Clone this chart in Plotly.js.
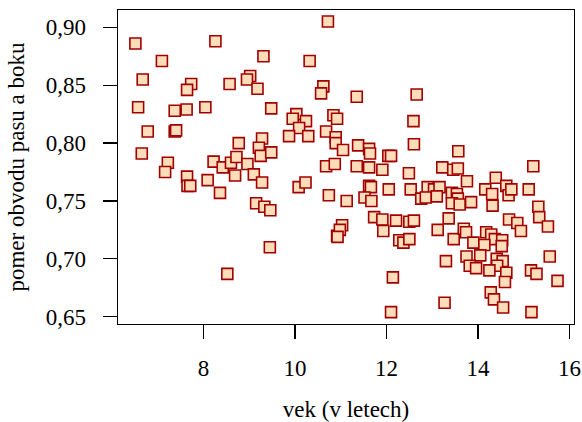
<!DOCTYPE html>
<html>
<head>
<meta charset="utf-8">
<script src="https://cdn.plot.ly/plotly-3.0.1.min.js"></script>
<style>html,body{margin:0;padding:0;background:#fff;}#chart{width:582px;height:422px;}</style>
</head>
<body>
<div id="chart"></div>
<script>
const age = [
  6.51, 8.26, 10.72, 9.31, 7.09, 10.32, 6.67, 7.73, 7.64, 8.57,
  9.02, 8.95, 9.18, 10.62, 10.57, 6.57, 7.37, 7.63, 8.04, 9.48,
  10.03, 9.95, 10.24, 10.09, 9.87, 10.29, 10.84, 10.92, 6.78, 7.37,
  7.40, 10.68, 10.89, 10.89, 9.28, 8.77, 9.21, 9.25, 9.48, 6.65,
  7.22, 7.16, 8.22, 8.42, 8.60, 8.72, 8.96, 9.10, 8.69, 7.64,
  10.68, 10.87, 11.35, 12.66, 12.59, 11.05, 11.38, 11.62, 11.64, 12.60,
  13.57, 12.04, 12.10, 11.35, 11.62, 11.91, 12.49, 13.22, 13.46, 13.56,
  15.21, 14.39, 7.65, 7.71, 8.09, 8.36, 9.28, 9.15, 9.33, 9.46,
  9.45, 8.52, 10.08, 10.23, 10.74, 10.92, 11.13, 11.62, 11.66, 11.52,
  11.67, 12.05, 12.53, 12.90, 13.04, 13.16, 12.76, 12.86, 13.10, 13.43,
  13.54, 13.56, 13.43, 13.60, 13.85, 13.76, 14.16, 14.31, 14.32, 14.62,
  14.67, 14.73, 15.11, 15.32, 15.34, 15.53, 14.68, 14.86, 14.94, 11.73,
  11.91, 11.93, 12.21, 12.50, 12.60, 12.28, 12.37, 12.50, 13.36, 13.12,
  13.47, 13.69, 13.74, 14.18, 14.29, 14.37, 14.53, 13.90, 14.14, 14.52,
  14.05, 13.75, 13.82, 13.96, 14.41, 14.54, 14.42, 14.25, 14.62, 14.59,
  13.30, 15.16, 15.28, 15.57, 15.74, 14.28, 14.35, 14.55, 13.27, 12.10,
  15.17, 12.14, 11.03, 10.98, 10.93
];
const ratio = [
  0.886, 0.888, 0.905, 0.875, 0.871, 0.871, 0.855, 0.851, 0.846, 0.851,
  0.858, 0.855, 0.847, 0.849, 0.843, 0.831, 0.828, 0.829, 0.831, 0.830,
  0.825, 0.821, 0.819, 0.813, 0.806, 0.806, 0.824, 0.821, 0.810, 0.810,
  0.811, 0.810, 0.805, 0.800, 0.804, 0.800, 0.796, 0.789, 0.792, 0.791,
  0.783, 0.775, 0.784, 0.779, 0.783, 0.788, 0.782, 0.773, 0.772, 0.771,
  0.780, 0.782, 0.840, 0.842, 0.819, 0.794, 0.798, 0.795, 0.791, 0.799,
  0.793, 0.789, 0.789, 0.780, 0.779, 0.777, 0.774, 0.779, 0.777, 0.778,
  0.780, 0.770, 0.763, 0.763, 0.768, 0.757, 0.766, 0.748, 0.745, 0.742,
  0.710, 0.687, 0.762, 0.766, 0.755, 0.720, 0.750, 0.763, 0.762, 0.753,
  0.750, 0.760, 0.760, 0.762, 0.760, 0.762, 0.752, 0.753, 0.754, 0.757,
  0.756, 0.752, 0.748, 0.747, 0.749, 0.767, 0.760, 0.756, 0.746, 0.763,
  0.755, 0.760, 0.760, 0.745, 0.736, 0.728, 0.734, 0.731, 0.724, 0.736,
  0.734, 0.724, 0.733, 0.732, 0.733, 0.716, 0.714, 0.717, 0.735, 0.725,
  0.717, 0.726, 0.723, 0.723, 0.721, 0.717, 0.716, 0.714, 0.712, 0.711,
  0.703, 0.702, 0.694, 0.692, 0.700, 0.698, 0.694, 0.690, 0.688, 0.680,
  0.698, 0.690, 0.687, 0.702, 0.681, 0.671, 0.665, 0.658, 0.662, 0.654,
  0.654, 0.684, 0.729, 0.725, 0.719
];
const xTicks = [8, 10, 12, 14, 16];
const yTicks = [0.65, 0.70, 0.75, 0.80, 0.85, 0.90];
const xTitle = 'vek (v letech)';
const yTitle = 'pomer obvodu pasu a boku';

const font = {family: '"Liberation Serif", "Times New Roman", serif', size: 23, color: '#000'};

Plotly.newPlot('chart', [{
  type: 'scatter', mode: 'markers', x: age, y: ratio,
  marker: {symbol: 'square', size: 11, color: '#FFDDBB', line: {color: '#A00000', width: 1.6}}
}], {
  width: 582, height: 422,
  margin: {l: 118, r: 8, t: 10, b: 98},
  paper_bgcolor: '#fff', plot_bgcolor: '#fff',
  separators: ', ',
  font: font,
  showlegend: false,
  xaxis: {
    range: [6.13, 16.10], tickvals: xTicks, ticks: 'outside', ticklen: 14, tickwidth: 1.3, tickcolor: '#000',
    showline: true, mirror: true, linecolor: '#000', linewidth: 1.3, showgrid: false, zeroline: false,
    ticklabelstandoff: 9,
    title: {text: xTitle, font: font, standoff: 26}
  },
  yaxis: {
    range: [0.6437, 0.915], tickvals: yTicks, tickformat: '.2f', ticks: 'outside', ticklen: 14, tickwidth: 1.3, tickcolor: '#000',
    showline: true, mirror: true, linecolor: '#000', linewidth: 1.3, showgrid: false, zeroline: false,
    ticklabelstandoff: 12,
    title: {text: yTitle, font: font, standoff: 14}
  }
}, {displayModeBar: false, staticPlot: true});
</script>
</body>
</html>
